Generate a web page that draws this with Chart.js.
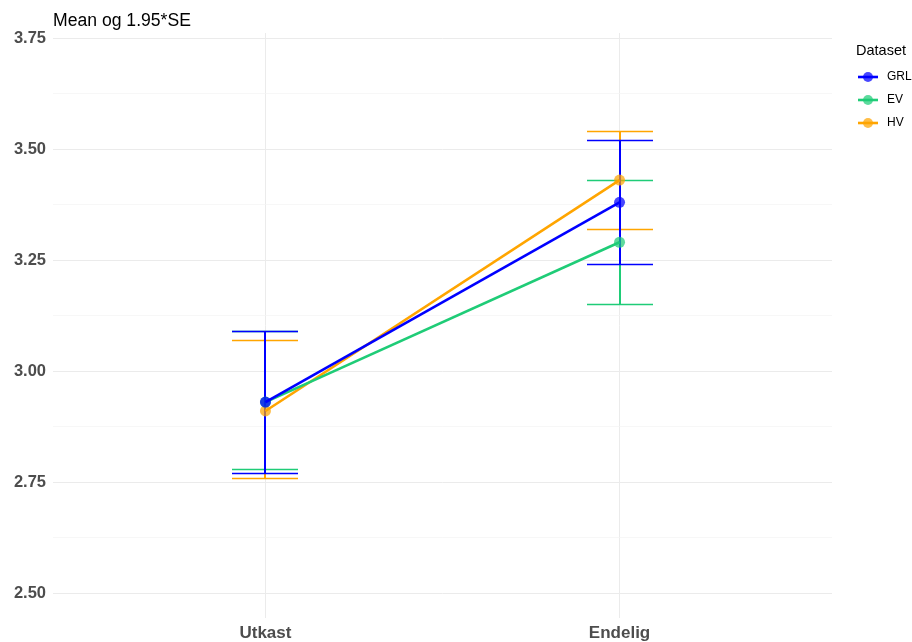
<!DOCTYPE html>
<html>
<head>
<meta charset="utf-8">
<script src="https://cdn.jsdelivr.net/npm/chart.js@4"></script>
<style>
  html, body { margin: 0; padding: 0; background: #fff; }
  #wrap { width: 912px; height: 642px; }
</style>
</head>
<body>
<div id="wrap"><canvas id="chart" width="912" height="642"></canvas></div>
<script>
var categories = ["Utkast", "Endelig"];
var seriesNames = ["GRL", "EV", "HV"];
var seriesColors = ["#0000FF", "#1FCC77", "#FFA500"];
var pointColors = ["rgba(0,0,255,0.72)", "rgba(31,204,119,0.72)", "rgba(255,165,0,0.72)"];

var grlMean = [2.93, 3.38];
var grlLow = [2.77, 3.24];
var grlHigh = [3.09, 3.52];

var evMean = [2.93, 3.29];
var evLow = [2.78, 3.15];
var evHigh = [3.09, 3.43];

var hvMean = [2.91, 3.43];
var hvLow = [2.76, 3.32];
var hvHigh = [3.07, 3.54];

var yMajorTicks = [2.50, 2.75, 3.00, 3.25, 3.50, 3.75];

var means = [grlMean, evMean, hvMean];
var lows = [grlLow, evLow, hvLow];
var highs = [grlHigh, evHigh, hvHigh];
// draw order: HV first, then EV, GRL on top
var drawOrder = [2, 1, 0];
var FONT = "'Liberation Sans', Arial, sans-serif";

var datasets = seriesNames.map(function (name, s) {
  return {
    label: name,
    data: categories.map(function (c, i) { return { x: i + 1, y: means[s][i] }; }),
    borderColor: seriesColors[s],
    backgroundColor: pointColors[s],
    pointBackgroundColor: pointColors[s],
    pointBorderWidth: 0,
    pointRadius: 5.5,
    pointHoverRadius: 5.5,
    borderWidth: 2.6,
    order: s,
    lows: lows[s],
    highs: highs[s]
  };
});

var errorBars = {
  id: "errorBars",
  beforeDatasetsDraw: function (chart) {
    var c = chart.ctx, xs = chart.scales.x, ys = chart.scales.y;
    var half = Math.round(xs.getPixelForValue(1.093) - xs.getPixelForValue(1));
    c.save();
    drawOrder.forEach(function (s) {
      var ds = chart.data.datasets[s];
      c.strokeStyle = seriesColors[s];
      categories.forEach(function (cat, i) {
        var px = Math.round(xs.getPixelForValue(i + 1));
        var lo = Math.round(ys.getPixelForValue(ds.lows[i])) + 0.5;
        var hi = Math.round(ys.getPixelForValue(ds.highs[i])) + 0.5;
        c.lineWidth = 2;
        c.beginPath();
        c.moveTo(px, lo); c.lineTo(px, hi);
        c.stroke();
        c.lineWidth = 1.3;
        c.beginPath();
        c.moveTo(px - half, lo); c.lineTo(px + half, lo);
        c.moveTo(px - half, hi); c.lineTo(px + half, hi);
        c.stroke();
      });
    });
    c.restore();
  }
};

var extras = {
  id: "extras",
  afterDraw: function (chart) {
    var c = chart.ctx;
    c.save();
    c.fillStyle = "#000";
    c.font = "17.6px " + FONT;
    c.textBaseline = "alphabetic";
    c.fillText("Mean og 1.95*SE", 53, 25.5);
    c.font = "14.5px " + FONT;
    c.fillText("Dataset", 856, 55);
    c.font = "12px " + FONT;
    seriesNames.forEach(function (name, s) {
      var y = 77 + s * 23;
      c.strokeStyle = seriesColors[s];
      c.lineWidth = 2.6;
      c.beginPath(); c.moveTo(858, y); c.lineTo(878, y); c.stroke();
      c.fillStyle = pointColors[s];
      c.beginPath(); c.arc(868, y, 5, 0, Math.PI * 2); c.fill();
      c.fillStyle = "#000";
      c.textBaseline = "middle";
      c.fillText(name, 887, y);
    });
    c.restore();
  }
};

new Chart(document.getElementById("chart"), {
  type: "line",
  data: { datasets: datasets },
  plugins: [errorBars, extras],
  options: {
    responsive: false,
    animation: false,
    layout: { padding: { top: 33, right: 80, left: 0, bottom: 0 } },
    plugins: { legend: { display: false }, tooltip: { enabled: false } },
    scales: {
      x: {
        type: "linear",
        min: 0.4,
        max: 2.6,
        afterBuildTicks: function (scale) {
          scale.ticks = categories.map(function (c, i) { return { value: i + 1 }; });
        },
        afterFit: function (scale) { scale.height = 24; },
        ticks: {
          callback: function (v) { return categories[v - 1]; },
          color: "#4D4D4D",
          font: { family: FONT, size: 17, weight: "bold" },
          padding: 5,
          maxRotation: 0
        },
        grid: { color: "#EBEBEB", lineWidth: 1, drawTicks: false },
        border: { display: false }
      },
      y: {
        min: 2.4437,
        max: 3.7613,
        afterBuildTicks: function (scale) {
          var t = [];
          yMajorTicks.forEach(function (v, i) {
            t.push({ value: v, major: true });
            if (i < yMajorTicks.length - 1) t.push({ value: v + 0.125 });
          });
          scale.ticks = t;
        },
        afterFit: function (scale) { scale.width = 53; },
        ticks: {
          autoSkip: false,
          callback: function (v) {
            return yMajorTicks.indexOf(v) >= 0 ? v.toFixed(2) : "";
          },
          color: "#4D4D4D",
          font: { family: FONT, size: 16.5, weight: "bold" },
          padding: 7
        },
        grid: {
          drawTicks: false,
          color: function (ctx) {
            return yMajorTicks.indexOf(ctx.tick.value) >= 0 ? "#EBEBEB" : "#F3F3F3";
          },
          lineWidth: function (ctx) {
            return yMajorTicks.indexOf(ctx.tick.value) >= 0 ? 1 : 0.7;
          }
        },
        border: { display: false }
      }
    }
  }
});
</script>
</body>
</html>
